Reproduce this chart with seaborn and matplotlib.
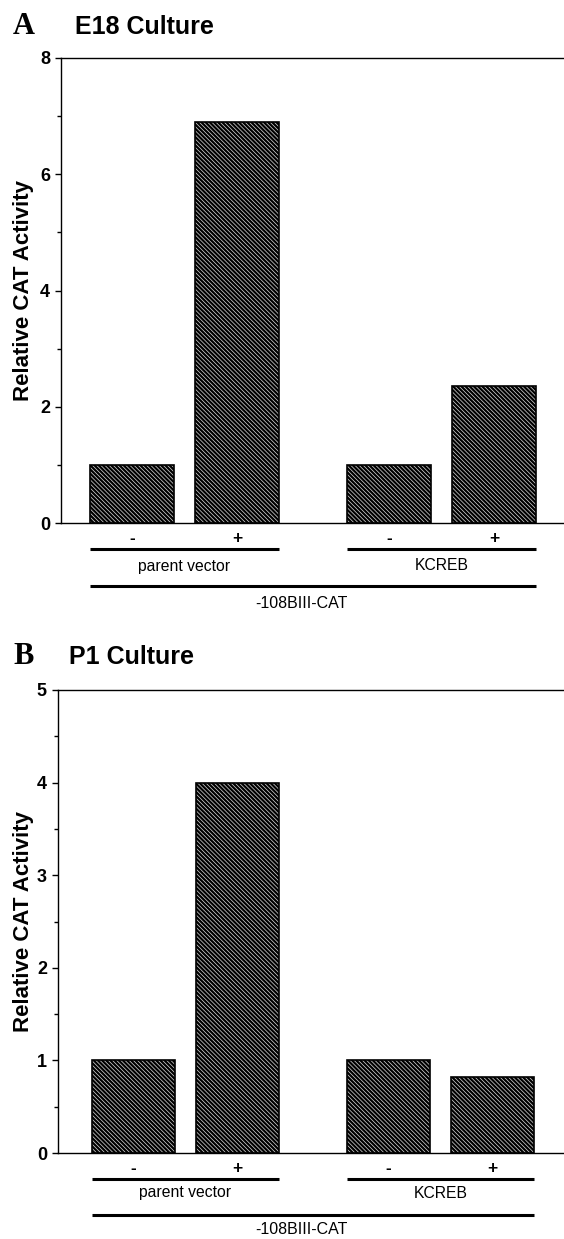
import matplotlib
matplotlib.use("Agg")
import matplotlib.pyplot as plt
import matplotlib.transforms as mtransforms
import numpy as np
import pandas as pd
import seaborn as sns

# CAT reporter activity, normalised to the untreated control of each construct
treatment = ["-", "+", "-", "+"]
construct = ["parent vector", "parent vector", "KCREB", "KCREB"]
reporter = "-108BIII-CAT"
panel_letters = ["A", "B"]
panel_titles = ["E18 Culture", "P1 Culture"]
e18_activity = [1.0, 6.9, 1.0, 2.35]
p1_activity = [1.0, 4.0, 1.0, 0.82]
y_label = "Relative CAT Activity"

sns.set_theme(style="ticks")
plt.rcParams["font.family"] = ["Liberation Sans", "DejaVu Sans"]
plt.rcParams["hatch.linewidth"] = 1.6
plt.rcParams["text.color"] = "black"
plt.rcParams["axes.labelcolor"] = "black"
plt.rcParams["xtick.color"] = "black"
plt.rcParams["ytick.color"] = "black"

W, H = 564, 1239
fig = plt.figure(figsize=(W / 100, H / 100), dpi=100)

# two bars per construct, with a wider gap between the constructs
group_gap = 1.45
slots = np.array([0.0, 1.0, 1.0 + group_gap, 2.0 + group_gap])
bar_w = 0.8

# pixel layout of each panel
panels = [
    dict(values=e18_activity, ymax=8, major=2, minor=1, left=61, top=58, bottom=523,
         first_px=132, unit_px=105, title_y=27, title_x=75,
         below=[15, 26, 43, 63, 80]),
    dict(values=p1_activity, ymax=5, major=1, minor=0.5, left=58, top=690, bottom=1153,
         first_px=133.5, unit_px=104, title_y=657, title_x=69,
         below=[15, 26, 40, 62, 77]),
]

for letter, title, p in zip(panel_letters, panel_titles, panels):
    ax = fig.add_axes([p["left"] / W, 1 - p["bottom"] / H,
                       (W - p["left"]) / W, (p["bottom"] - p["top"]) / H])
    df = pd.DataFrame({"slot": slots, "activity": p["values"],
                       "treatment": treatment, "construct": construct})
    sns.barplot(data=df, x="slot", y="activity", native_scale=True, orient="x",
                errorbar=None, color="white", edgecolor="black", linewidth=1.2,
                width=bar_w, ax=ax)
    for bar in ax.patches:
        bar.set_facecolor("#d8d8d8")
        bar.set_edgecolor("black")
        bar.set_hatch("\\" * 8)

    ax.set_xlim((p["left"] - p["first_px"]) / p["unit_px"],
                (W - p["first_px"]) / p["unit_px"])
    ax.set_ylim(0, p["ymax"])
    ax.set_xticks([])
    ticks = np.arange(0, p["ymax"] + 0.001, p["major"])
    ax.set_yticks(ticks)
    ax.set_yticklabels([f"{t:g}" for t in ticks], fontweight="bold", fontsize=13)
    ax.set_yticks(np.arange(0, p["ymax"] + 0.001, p["minor"]), minor=True)
    ax.tick_params(axis="y", which="major", direction="out", length=4, width=1, pad=4)
    ax.tick_params(axis="y", which="minor", direction="out", length=3, width=1)
    ax.set_xlabel("")
    ax.set_ylabel(y_label, fontweight="bold", fontsize=16)
    ax.yaxis.set_label_coords((34 - p["left"]) / (W - p["left"]), 0.5)
    for side in ["left", "bottom", "top"]:
        ax.spines[side].set_color("black")
        ax.spines[side].set_linewidth(1.0)
    ax.spines["right"].set_visible(False)

    # annotations beneath the x axis, offset in pixels from the axis line
    base = mtransforms.blended_transform_factory(ax.transData, ax.transAxes)

    def below(px):
        return mtransforms.offset_copy(base, fig=fig, x=0, y=-px, units="dots")

    d_sign, d_line, d_name, d_long, d_rep = p["below"]
    for x, t in zip(slots, treatment):
        ax.text(x, 0, t, transform=below(d_sign), ha="center", va="center",
                fontsize=12.5, fontweight="bold", clip_on=False)
    for name in dict.fromkeys(construct):
        xs = slots[[c == name for c in construct]]
        ax.plot([xs.min() - bar_w / 2, xs.max() + bar_w / 2], [0, 0], color="black",
                lw=2.2, solid_capstyle="butt", transform=below(d_line), clip_on=False)
        ax.text(xs.mean(), 0, name, transform=below(d_name), ha="center", va="center",
                fontsize=11.3, clip_on=False)
    ax.plot([slots.min() - bar_w / 2, slots.max() + bar_w / 2], [0, 0], color="black",
            lw=2.2, solid_capstyle="butt", transform=below(d_long), clip_on=False)
    ax.text(slots.mean() - 0.11, 0, reporter, transform=below(d_rep), ha="center",
            va="center", fontsize=11.5, clip_on=False)

    fig.text(13 / W, 1 - p["title_y"] / H, letter, fontfamily="Liberation Serif",
             fontweight="bold", fontsize=22, ha="left", va="center")
    fig.text(p["title_x"] / W, 1 - p["title_y"] / H, title, fontweight="bold",
             fontsize=18, ha="left", va="center")

fig.savefig("out.png", dpi=100)
